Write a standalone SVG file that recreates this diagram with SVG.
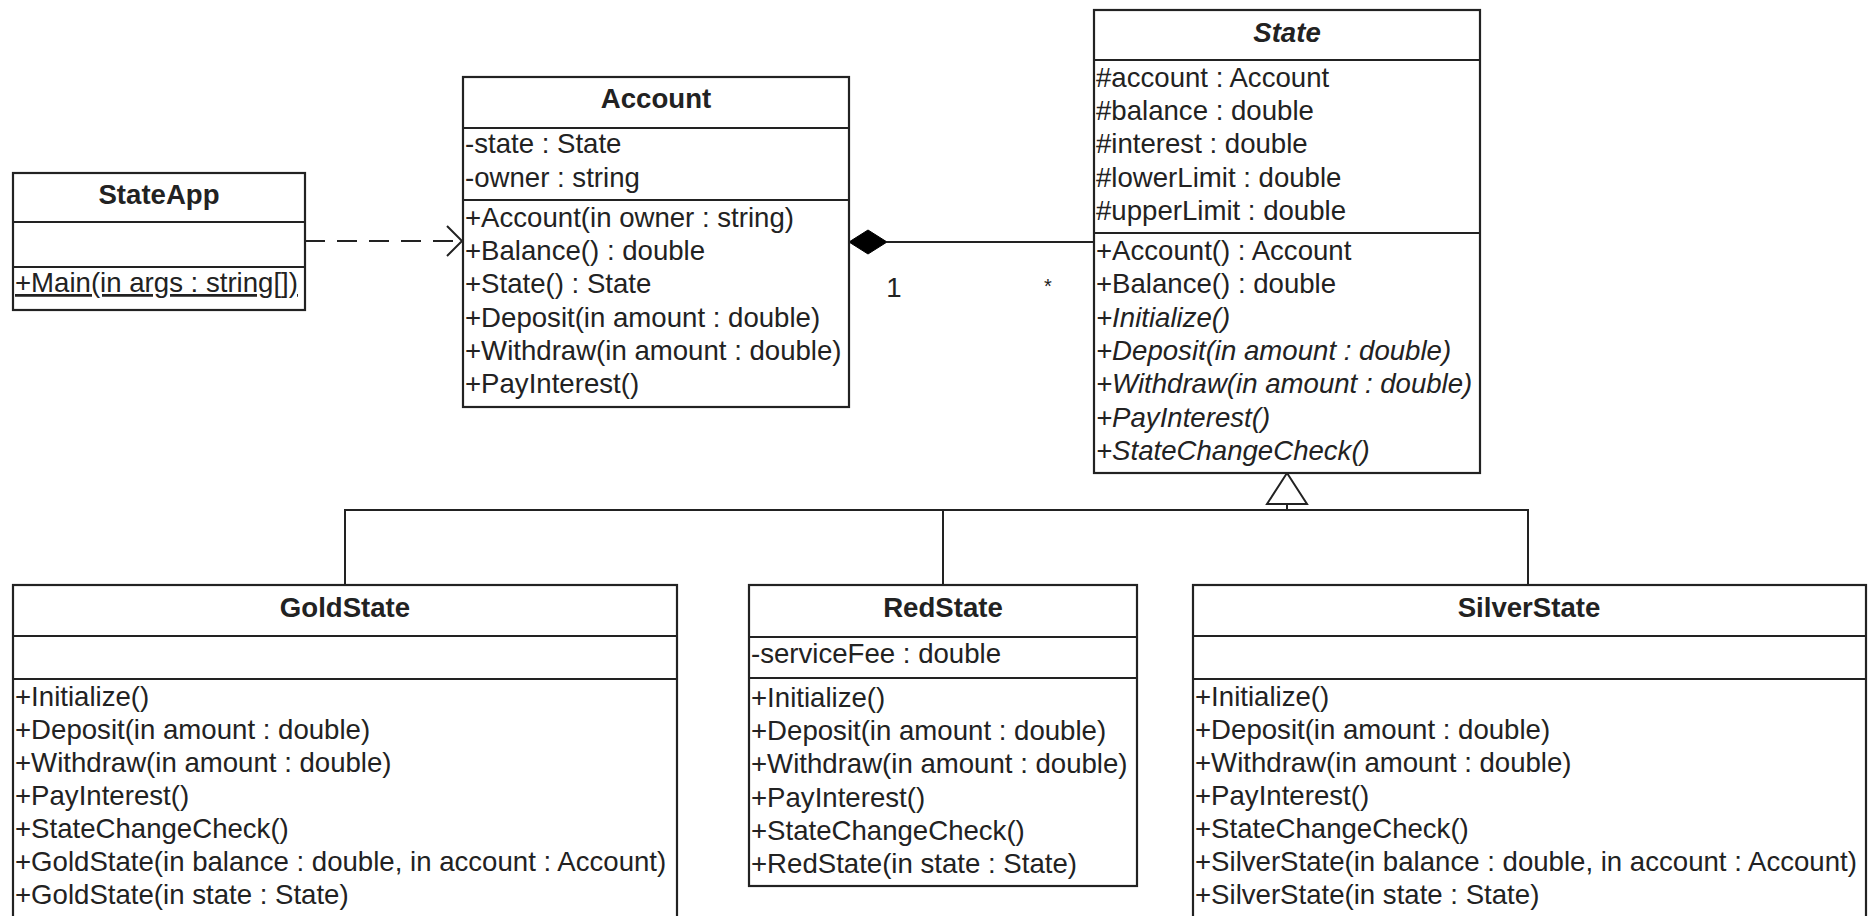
<svg xmlns="http://www.w3.org/2000/svg" width="1868" height="916" viewBox="0 0 1868 916">
<defs>
<style>
text{font-family:"Liberation Sans",Arial,sans-serif;font-size:27.6px;fill:#222}
.t{font-weight:bold;text-anchor:middle}
.ti{font-weight:bold;font-style:italic;text-anchor:middle}
.i{font-style:italic}
.u{text-decoration:underline}
.box{fill:#fff;stroke:#222;stroke-width:2.2}
.sep{stroke:#222;stroke-width:2.2}
.ln{fill:none;stroke:#222;stroke-width:2}
.dash{fill:none;stroke:#222;stroke-width:2;stroke-dasharray:20 12}
</style>
<marker id="open" markerWidth="24" markerHeight="34" refX="21" refY="17" orient="auto" markerUnits="userSpaceOnUse">
<path d="M6,2 L21,17 L6,32" fill="none" stroke="#222" stroke-width="2"/>
</marker>
</defs>
<rect width="1868" height="916" fill="#fff"/>

<g id="connectors">
<line class="dash" x1="305" y1="241" x2="462" y2="241" marker-end="url(#open)"/>
<line class="ln" x1="887" y1="242" x2="1094" y2="242"/>
<polygon points="849,242 868,230 887,242 868,254" fill="#000" stroke="#000" stroke-width="1"/>
<text x="894" y="297" text-anchor="middle">1</text>
<text x="1048" y="293" text-anchor="middle" style="font-size:20px">*</text>
<polyline class="ln" points="345,585 345,510 1528,510 1528,585"/>
<line class="ln" x1="943" y1="510" x2="943" y2="585"/>
<line class="ln" x1="1287" y1="504" x2="1287" y2="510"/>
<polygon points="1287,473 1307,504 1267,504" fill="#fff" stroke="#222" stroke-width="2"/>
</g>

<g id="StateApp">
<rect class="box" x="13" y="173" width="292" height="137"/>
<line class="sep" x1="13" y1="222" x2="305" y2="222"/>
<line class="sep" x1="13" y1="267" x2="305" y2="267"/>
<text class="t" x="159" y="204">StateApp</text>
<text class="u" x="15" y="292">+Main(in args : string[])</text>
</g>

<g id="Account">
<rect class="box" x="463" y="77" width="386" height="330"/>
<line class="sep" x1="463" y1="128" x2="849" y2="128"/>
<line class="sep" x1="463" y1="200" x2="849" y2="200"/>
<text class="t" x="656" y="108">Account</text>
<text x="465" y="153">-state : State</text>
<text x="465" y="187">-owner : string</text>
<text x="465" y="227">+Account(in owner : string)</text>
<text x="465" y="260">+Balance() : double</text>
<text x="465" y="293">+State() : State</text>
<text x="465" y="327">+Deposit(in amount : double)</text>
<text x="465" y="360">+Withdraw(in amount : double)</text>
<text x="465" y="393">+PayInterest()</text>
</g>

<g id="State">
<rect class="box" x="1094" y="10" width="386" height="463"/>
<line class="sep" x1="1094" y1="60" x2="1480" y2="60"/>
<line class="sep" x1="1094" y1="233" x2="1480" y2="233"/>
<text class="ti" x="1287" y="42">State</text>
<text x="1096" y="87">#account : Account</text>
<text x="1096" y="120">#balance : double</text>
<text x="1096" y="153">#interest : double</text>
<text x="1096" y="187">#lowerLimit : double</text>
<text x="1096" y="220">#upperLimit : double</text>
<text x="1096" y="260">+Account() : Account</text>
<text x="1096" y="293">+Balance() : double</text>
<text class="i" x="1096" y="327">+Initialize()</text>
<text class="i" x="1096" y="360">+Deposit(in amount : double)</text>
<text class="i" x="1096" y="393">+Withdraw(in amount : double)</text>
<text class="i" x="1096" y="427">+PayInterest()</text>
<text class="i" x="1096" y="460">+StateChangeCheck()</text>
</g>

<g id="GoldState">
<rect class="box" x="13" y="585" width="664" height="360"/>
<line class="sep" x1="13" y1="636" x2="677" y2="636"/>
<line class="sep" x1="13" y1="679" x2="677" y2="679"/>
<text class="t" x="345" y="617">GoldState</text>
<text x="15" y="706">+Initialize()</text>
<text x="15" y="739">+Deposit(in amount : double)</text>
<text x="15" y="772">+Withdraw(in amount : double)</text>
<text x="15" y="805">+PayInterest()</text>
<text x="15" y="838">+StateChangeCheck()</text>
<text x="15" y="871">+GoldState(in balance : double, in account : Account)</text>
<text x="15" y="904">+GoldState(in state : State)</text>
</g>

<g id="RedState">
<rect class="box" x="749" y="585" width="388" height="301"/>
<line class="sep" x1="749" y1="637" x2="1137" y2="637"/>
<line class="sep" x1="749" y1="678" x2="1137" y2="678"/>
<text class="t" x="943" y="617">RedState</text>
<text x="751" y="663">-serviceFee : double</text>
<text x="751" y="707">+Initialize()</text>
<text x="751" y="740">+Deposit(in amount : double)</text>
<text x="751" y="773">+Withdraw(in amount : double)</text>
<text x="751" y="807">+PayInterest()</text>
<text x="751" y="840">+StateChangeCheck()</text>
<text x="751" y="873">+RedState(in state : State)</text>
</g>

<g id="SilverState">
<rect class="box" x="1193" y="585" width="673" height="360"/>
<line class="sep" x1="1193" y1="636" x2="1866" y2="636"/>
<line class="sep" x1="1193" y1="679" x2="1866" y2="679"/>
<text class="t" x="1529" y="617">SilverState</text>
<text x="1195" y="706">+Initialize()</text>
<text x="1195" y="739">+Deposit(in amount : double)</text>
<text x="1195" y="772">+Withdraw(in amount : double)</text>
<text x="1195" y="805">+PayInterest()</text>
<text x="1195" y="838">+StateChangeCheck()</text>
<text x="1195" y="871">+SilverState(in balance : double, in account : Account)</text>
<text x="1195" y="904">+SilverState(in state : State)</text>
</g>
</svg>
